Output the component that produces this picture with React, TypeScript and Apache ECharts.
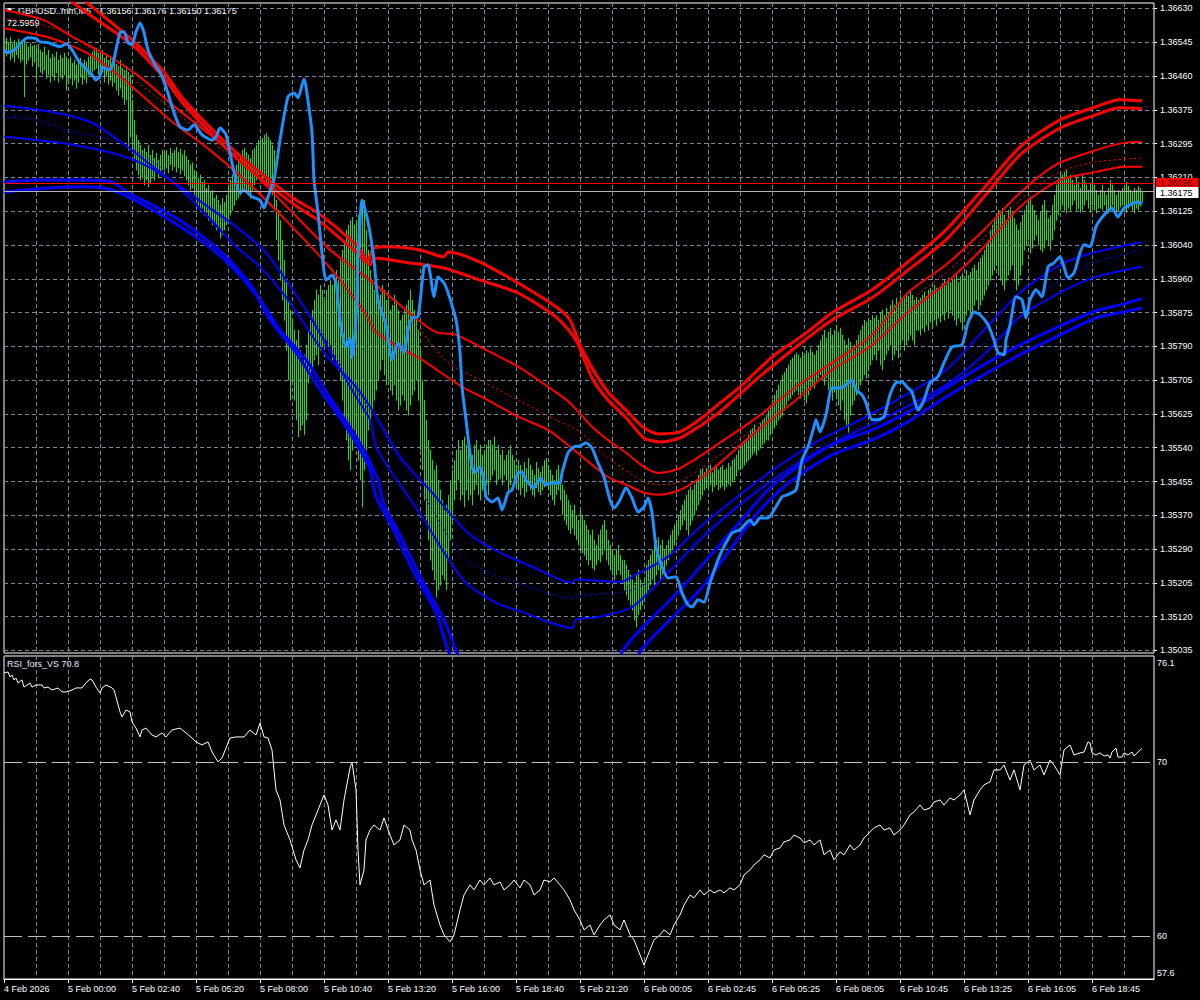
import React, { useEffect, useRef } from "react";
import * as echarts from "echarts";

// ---------- scale constants ----------
const PRICE_BASE = 1.35;
const PRICE_UNIT = 0.00001;
const PRICE_AXIS_MIN = 1.350287;
const PRICE_AXIS_MAX = 1.366435;
const PRICE_LABELS = ["1.35035","1.35120","1.35205","1.35290","1.35370","1.35455","1.35540","1.35625","1.35705","1.35790","1.35875","1.35960","1.36040","1.36125","1.36210","1.36295","1.36375","1.36460","1.36545","1.36630"];
const PRICE_TICK_LO = 1.35035;
const PRICE_TICK_HI = 1.3663;
const RSI_AXIS_MIN = 57.52;
const RSI_AXIS_MAX = 76.12;
const RSI_LABELS = ["57.6", "60", "70", "76.1"];
const RSI_LABEL_AT = [57.87, 60, 70, 75.72];
const RSI_LEVELS = [70, 60];
const ASK = 1.36195;
const BID = 1.36175;
const HEADER_SYMBOL = "GBPUSD..mm,M5";
const HEADER_OHLC = "1.36156 1.36176 1.36150 1.36175";
const HEADER_EXTRA = "72.5959";
const RSI_NAME = "RSI_fors_VS 70.8";
const FIRST_LABEL = "4 Feb 2026";
const SLOT_COUNT = 576;

// ---------- bars (high / low, in 0.00001 above 1.35000) ----------
const BAR_HI = [
1552,1557,1547,1560,1542,1552,1547,1555,1540,1550,1552,1542,1535,1545,1537,1540,
1532,1542,1527,1522,1535,1515,1527,1507,1517,1510,1522,1502,1515,1507,1520,1510,
1502,1510,1495,1502,1490,1497,1507,1492,1502,1497,1510,1515,1522,1527,1532,1520,
1515,1527,1507,1517,1502,1512,1497,1507,1492,1487,1502,1482,1477,1487,1472,1465,
1403,1353,1316,1303,1291,1278,1283,1273,1291,1266,1278,1258,1271,1254,1266,1278,
1273,1278,1266,1283,1271,1278,1286,1273,1281,1268,1278,1263,1254,1242,1247,1229,
1224,1209,1217,1199,1204,1184,1192,1174,1179,1159,1167,1154,1142,1159,1149,1167,
1192,1204,1217,1229,1242,1254,1266,1278,1283,1273,1266,1258,1278,1283,1291,1303,
1303,1308,1316,1321,1311,1303,1291,1278,
1154,1129,1104,1055,1005,955,906,881,
856,831,806,831,781,757,770,794,
831,856,881,906,931,919,943,931,
906,931,943,955,943,968,980,955,1005,1030,1055,1080,1093,1104,1112,1093,
1104,1117,1129,1142,1154,1080,1030,980,955,931,943,906,919,943,931,906,
906,881,894,919,906,881,856,869,881,894,906,931,906,881,856,831,
781,707,657,608,558,533,508,484,496,459,434,409,384,397,421,459,484,508,533,558,
533,558,566,546,558,533,521,546,558,533,546,521,533,546,558,
558,546,566,533,546,521,533,508,521,533,546,521,508,496,
508,496,484,503,488,513,496,484,471,503,488,478,493,508,513,496,484,471,459,484,496,471,
447,434,422,409,397,384,397,372,359,384,
372,359,347,335,322,335,310,297,322,335,347,359,335,310,297,285,272,285,297,272,260,
260,248,235,223,211,198,223,235,211,198,215,
248,260,272,285,297,310,316,297,310,285,297,310,322,335,347,359,372,384,397,409,
422,434,442,434,447,459,471,484,488,478,
488,484,496,478,488,493,484,491,496,484,488,501,493,508,513,521,533,
538,546,558,563,571,583,588,596,583,591,601,608,613,620,
632,645,657,670,682,695,707,720,727,737,745,757,762,770,775,
770,762,777,767,781,775,786,777,770,781,794,
806,819,831,811,826,836,819,831,843,826,836,819,806,794,811,801,786,794,806,819,831,843,856,851,861,856,868,
861,868,856,876,881,868,886,876,894,906,894,911,901,918,906,911,923,916,931,918,906,913,
906,911,918,926,916,931,936,923,943,936,931,941,948,955,943,960,950,
955,960,968,950,965,973,960,980,968,975,985,993,980,1000,1010,1017,1030,1042,1055,1080,1093,
1104,1117,1129,1124,1134,1117,1104,1129,1137,1124,1109,1093,1080,1099,1117,
1129,1142,1154,1162,1142,1129,1117,1104,1124,1142,1154,1129,1109,1117,1142,1167,1192,1209,1224,
1217,1224,1229,1209,1217,1204,1192,1209,1199,1184,1217,1204,1192,1179,1197,1209,1192,1179,1167,
1179,1192,1174,1167,1184,1204,1192,1179,1167,1179,1174,1184,1192,1199,1189,1179,1174,1184,1179,1189,1184,1176
];
const BAR_LO = [
1522,1512,1525,1502,1510,1497,1515,1507,1497,1502,1411,1492,1502,1510,1487,1497,
1452,1485,1472,1467,1477,1457,1465,1447,1462,1452,1470,1447,1460,1455,1465,1427,
1445,1457,1440,1452,1432,1447,1460,1442,1455,1445,1465,1462,1472,1477,1482,1467,
1457,1472,1447,1462,1442,1452,1437,1447,1427,1415,1432,1408,1391,1403,1278,1311,
1278,1254,1229,1217,1204,1209,1192,1204,1187,1197,1214,1204,1224,1209,1217,1229,
1229,1234,1222,1242,1229,1237,1224,1234,1219,1229,1214,1204,1192,1179,1184,1167,
1154,1142,1129,1134,1117,1124,1104,1109,1093,1099,1080,1085,1060,1068,1080,1093,
1104,1117,1129,1142,1154,1159,1167,1179,1184,1174,1167,1159,1179,1192,1204,1217,
1217,1204,1209,1192,1197,1187,1167,1129,
1055,1005,955,906,856,781,707,657,
707,657,608,566,583,596,571,608,
700,720,732,757,770,745,781,789,
794,806,781,794,757,770,745,732,707,657,608,558,508,484,533,583,
558,508,459,392,484,533,583,608,632,657,682,707,732,757,720,695,
707,682,670,695,657,632,645,670,657,632,620,645,670,682,707,657,
533,484,409,359,310,260,235,211,168,186,198,223,211,186,260,310,359,409,434,459,
409,422,392,434,409,422,397,434,447,422,409,434,459,447,422,
459,471,484,447,459,463,447,471,459,434,447,463,454,439,
434,422,439,417,429,447,434,422,417,439,429,422,434,441,447,434,422,409,397,422,434,409,
372,359,347,335,326,339,322,310,297,285,
278,272,260,248,260,240,235,248,260,255,272,285,260,248,235,223,211,223,235,223,211,
186,173,161,148,136,111,94,124,136,148,161,
173,186,198,211,193,223,235,211,223,235,248,260,272,285,297,310,322,335,347,359,
335,322,347,359,372,384,397,409,422,434,
439,434,447,429,442,447,434,439,444,434,442,449,444,454,459,469,484,
484,488,496,503,508,513,521,528,521,533,538,546,551,558,
558,571,583,588,596,608,613,620,632,645,657,662,670,677,682,
670,662,677,657,650,670,682,695,687,707,712,
720,707,695,712,682,670,657,677,662,645,632,657,608,596,576,620,645,657,670,682,695,707,720,712,732,745,757,
770,757,781,745,732,757,770,781,794,757,770,781,762,794,806,781,794,806,819,806,794,831,
831,819,836,826,843,831,851,836,856,843,861,851,868,856,876,861,881,
868,856,843,861,851,831,856,868,881,861,876,893,906,881,893,906,918,931,943,955,968,
980,993,968,955,943,931,955,968,980,993,955,931,943,968,993,
1030,1042,1055,1022,1035,1055,1067,1042,1030,1025,1035,1055,1042,1030,1055,1080,1104,1117,1129,
1142,1129,1122,1134,1129,1142,1154,1129,1134,1124,1129,1142,1154,1134,1124,1142,1129,1122,1134,
1134,1129,1142,1124,1122,1129,1142,1134,1124,1129,1137,1142,1129,1124,1134,1142,1129,1122,1134,1129,1139,1150
];

// ---------- indicator lines: [bar index, value in 0.00001 above 1.35000] ----------
const RED_OUTER_1 = [[0,1837],[40,1651],[64,1552],[80,1472],[90,1403],[112,1291],[128,1222],[146,1154],[157,1122],[176,1043],[182,1005],[185,1035],[193,1038],[208,1030],[220,1013],[222,1025],[238,1000],[257,948],[276,889],[283,856],[288,794],[294,737],[302,677],[311,632],[320,588],[327,573],[338,578],[349,613],[358,650],[368,690],[377,732],[386,772],[396,806],[405,839],[414,874],[434,931],[452,1000],[471,1080],[490,1184],[508,1286],[528,1353],[546,1386],[558,1403],[569,1400]];
const RED_OUTER_2 = [[0,1825],[33,1651],[64,1540],[80,1457],[90,1391],[112,1278],[128,1209],[146,1139],[157,1104],[176,1025],[183,993],[185,1010],[202,998],[220,985],[238,955],[257,923],[276,863],[286,806],[294,712],[302,657],[311,613],[320,563],[328,553],[338,563],[349,596],[358,628],[377,712],[396,789],[414,856],[434,911],[452,980],[471,1055],[490,1162],[508,1266],[528,1333],[546,1366],[558,1383],[569,1381]];
const RED_UPPER = [[0,1626],[20,1601],[34,1560],[53,1510],[70,1452],[84,1391],[103,1316],[123,1229],[143,1129],[163,1030],[183,955],[207,856],[216,826],[226,819],[238,789],[257,740],[272,690],[283,650],[294,591],[302,558],[311,526],[320,491],[327,476],[336,484],[345,508],[358,551],[377,616],[396,690],[414,750],[434,819],[452,924],[471,993],[490,1080],[508,1172],[526,1242],[546,1278],[560,1296],[569,1298]];
const RED_MID = [[0,1606],[28,1576],[53,1497],[78,1403],[103,1303],[128,1204],[153,1080],[173,993],[190,919],[208,831],[222,750],[238,707],[257,657],[276,608],[288,578],[302,513],[320,454],[328,447],[338,454],[358,521],[377,596],[396,670],[414,745],[434,811],[452,901],[471,973],[490,1060],[508,1154],[528,1224],[546,1249],[569,1258]];
const RED_LOWER = [[0,1581],[23,1557],[43,1515],[63,1440],[83,1353],[103,1278],[123,1192],[143,1093],[164,980],[181,869],[186,826],[200,781],[209,757],[220,720],[229,690],[240,662],[257,616],[272,583],[283,541],[302,466],[311,447],[320,427],[328,422],[338,434],[349,466],[358,501],[377,583],[396,657],[414,732],[434,794],[452,876],[471,948],[490,1038],[508,1137],[528,1204],[546,1224],[560,1237],[569,1237]];
const BLUE_UPPER = [[0,1388],[26,1371],[44,1346],[57,1303],[70,1254],[87,1187],[102,1112],[116,1038],[128,988],[142,906],[160,775],[176,690],[185,625],[198,516],[214,427],[232,327],[248,278],[264,243],[284,203],[286,211],[308,205],[314,218],[332,268],[348,342],[368,422],[388,496],[408,558],[428,608],[448,662],[471,732],[490,831],[508,924],[528,993],[546,1025],[569,1050]];
const BLUE_MID = [[0,1361],[16,1353],[35,1322],[54,1303],[73,1254],[98,1154],[123,1043],[148,906],[173,707],[198,508],[209,427],[231,260],[257,203],[284,165],[288,170],[314,186],[332,235],[348,317],[368,404],[388,478],[408,541],[428,591],[448,645],[471,712],[490,794],[508,889],[528,955],[546,1000],[569,1030]];
const BLUE_LOWER = [[0,1311],[16,1303],[35,1291],[54,1271],[68,1247],[83,1204],[102,1137],[116,1088],[131,1023],[142,948],[154,856],[176,665],[183,608],[186,541],[194,476],[209,367],[220,278],[231,203],[246,153],[260,129],[272,106],[284,91],[286,111],[298,119],[314,143],[332,228],[348,310],[368,397],[388,471],[408,533],[428,583],[448,632],[471,695],[490,770],[508,864],[528,924],[546,963],[569,988]];
const BLUE_OUTER_1 = [[0,1199],[16,1204],[40,1204],[54,1199],[62,1172],[76,1137],[90,1097],[109,1023],[124,938],[133,856],[146,775],[157,690],[172,583],[183,484],[186,417],[194,342],[205,228],[216,129],[222,36],[233,-88],[258,-237],[278,-262],[298,-138],[309,31],[323,111],[338,185],[352,265],[368,354],[382,434],[398,496],[414,546],[434,583],[452,627],[471,687],[490,745],[508,794],[528,841],[546,879],[560,896],[569,909]];
const BLUE_OUTER_2 = [[0,1174],[22,1184],[40,1187],[54,1179],[68,1147],[83,1104],[98,1055],[113,993],[128,906],[138,831],[151,757],[162,670],[177,558],[187,459],[190,397],[198,322],[209,210],[220,111],[227,24],[238,-88],[263,-262],[283,-287],[303,-138],[318,31],[333,111],[348,186],[363,285],[378,384],[393,454],[414,521],[434,558],[452,603],[471,665],[490,720],[508,770],[528,819],[546,861],[560,876],[569,886]];
const SMOOTH_PRICE = [[0,1527],[2,1520],[6,1530],[9,1547],[12,1557],[16,1555],[18,1547],[22,1545],[28,1535],[31,1542],[34,1527],[37,1502],[40,1485],[44,1465],[46,1452],[48,1462],[49,1485],[52,1477],[54,1485],[56,1527],[58,1570],[60,1572],[62,1545],[64,1540],[66,1572],[68,1594],[70,1570],[72,1527],[76,1485],[78,1472],[81,1435],[85,1371],[88,1336],[92,1328],[95,1341],[99,1316],[104,1303],[106,1311],[108,1333],[111,1316],[114,1247],[118,1172],[120,1179],[124,1162],[128,1154],[130,1134],[132,1162],[135,1204],[138,1303],[142,1411],[145,1420],[147,1408],[150,1455],[151,1435],[154,1321],[155,1204],[157,1122],[159,1023],[161,955],[164,968],[166,948],[168,856],[169,824],[171,789],[173,811],[174,762],[176,856],[177,1005],[179,1154],[181,1122],[183,1073],[185,1005],[187,906],[191,844],[194,757],[197,799],[200,775],[202,831],[204,861],[207,864],[210,988],[212,993],[215,914],[217,963],[220,948],[222,924],[226,856],[228,775],[229,690],[231,608],[233,526],[235,476],[238,491],[240,459],[241,417],[244,404],[247,414],[249,384],[252,427],[254,434],[257,476],[259,478],[261,459],[265,439],[268,463],[271,447],[274,451],[278,451],[279,476],[282,526],[285,541],[288,543],[291,551],[294,538],[297,501],[300,466],[303,409],[305,389],[308,409],[311,439],[314,414],[317,379],[320,392],[322,414],[324,377],[326,293],[329,243],[332,215],[336,218],[339,178],[342,148],[344,143],[347,161],[350,155],[353,203],[357,260],[360,293],[364,327],[368,335],[373,359],[375,347],[378,364],[382,364],[386,392],[389,417],[392,422],[396,434],[399,508],[402,541],[405,591],[406,608],[408,578],[411,620],[414,687],[418,687],[421,695],[424,707],[426,682],[429,670],[431,650],[434,608],[437,608],[440,616],[443,670],[446,700],[449,702],[452,687],[454,677],[457,632],[460,657],[463,700],[467,715],[470,750],[474,789],[479,794],[482,849],[485,876],[488,869],[492,844],[495,806],[497,775],[500,770],[501,806],[503,844],[506,914],[509,906],[511,861],[513,906],[516,931],[519,914],[522,988],[525,998],[528,1013],[530,988],[532,960],[535,973],[538,1023],[540,1043],[543,1038],[546,1088],[548,1104],[551,1122],[554,1134],[557,1112],[560,1134],[563,1142],[565,1147],[567,1149],[569,1144]];

// ---------- RSI: [bar index, value] ----------
const RSI = [[0,75.14],[2,75.2],[3,74.91],[4,75.03],[5,74.74],[6,74.85],[7,74.57],[9,74.74],[10,74.33],[13,74.57],[14,74.33],[16,74.45],[19,74.45],[20,74.28],[22,74.33],[24,74.16],[27,74.28],[29,74.05],[31,74.05],[34,74.16],[36,74.28],[39,74.28],[41,74.57],[43,74.8],[44,74.74],[46,74.33],[48,73.99],[49,74.28],[51,74.45],[54,74.28],[55,74.16],[56,73.76],[58,72.9],[59,72.61],[61,73.01],[63,72.9],[64,72.32],[66,71.97],[68,71.46],[69,71.86],[71,71.97],[74,71.57],[76,71.46],[79,71.69],[81,71.46],[84,71.86],[88,71.97],[91,71.69],[94,71.4],[96,71.17],[99,71.0],[102,71.17],[104,70.59],[107,70.02],[109,70.25],[111,70.82],[113,71.4],[116,71.46],[118,71.46],[120,71.46],[123,71.86],[126,71.57],[128,72.26],[130,71.46],[132,71.4],[134,70.71],[136,68.41],[138,67.83],[140,66.39],[143,65.53],[146,64.38],[148,63.92],[150,64.95],[152,65.53],[154,66.39],[157,67.25],[159,67.83],[160,68.12],[162,67.54],[164,66.1],[166,66.68],[168,66.1],[170,67.83],[173,69.67],[174,70.02],[176,68.41],[177,64.95],[178,62.94],[180,63.8],[181,65.53],[183,66.1],[185,66.39],[188,66.1],[190,66.79],[193,65.81],[195,65.24],[198,65.53],[200,66.39],[203,66.1],[204,65.53],[206,64.95],[208,63.8],[210,62.94],[213,63.22],[215,61.78],[218,60.63],[220,60.06],[223,59.66],[225,60.06],[228,61.5],[230,62.36],[233,62.94],[235,62.65],[238,63.22],[240,62.94],[243,63.34],[245,62.94],[248,63.11],[250,62.65],[253,62.94],[255,63.22],[258,62.77],[260,63.22],[263,62.94],[265,62.36],[268,62.65],[270,63.22],[273,63.11],[275,63.34],[278,62.94],[280,62.65],[283,62.07],[285,61.5],[288,60.92],[290,60.35],[293,60.63],[295,60.06],[298,60.63],[300,60.92],[303,61.21],[305,60.63],[308,60.35],[310,60.92],[313,60.06],[315,59.77],[318,58.91],[320,58.33],[323,59.2],[325,59.77],[328,60.06],[330,60.35],[333,60.06],[335,60.63],[338,61.21],[340,61.78],[343,62.36],[345,62.19],[348,62.65],[350,62.36],[353,62.65],[355,62.48],[358,62.65],[360,62.48],[363,62.77],[365,62.65],[368,62.94],[370,63.51],[373,63.8],[375,64.09],[378,64.38],[380,64.67],[383,64.49],[385,64.95],[388,65.07],[390,65.41],[393,65.53],[395,65.81],[398,65.64],[400,65.36],[403,65.53],[405,65.24],[408,65.53],[410,64.67],[413,64.95],[415,64.38],[418,64.84],[420,64.67],[423,65.24],[425,64.95],[428,65.24],[430,65.64],[433,65.99],[435,66.22],[438,66.39],[440,66.1],[443,66.22],[445,65.81],[448,66.1],[450,66.39],[453,66.97],[455,67.14],[458,67.54],[460,67.25],[463,67.37],[465,67.71],[468,67.83],[470,67.54],[473,67.94],[475,67.83],[478,68.12],[480,68.41],[483,66.97],[485,67.83],[488,68.41],[490,68.7],[493,68.87],[495,69.56],[498,69.56],[500,69.84],[503,68.98],[505,69.56],[508,68.41],[510,69.84],[513,70.13],[515,69.56],[518,69.84],[520,69.27],[523,70.13],[525,69.84],[528,69.27],[530,70.71],[533,71.0],[535,70.42],[538,70.54],[540,70.59],[542,71.17],[543,71.11],[544,70.54],[546,70.42],[548,70.54],[550,70.36],[552,70.42],[553,70.25],[554,70.59],[556,70.82],[557,70.3],[559,70.3],[560,70.54],[562,70.42],[564,70.59],[565,70.36],[567,70.59],[569,70.8]];

// ---------- colours ----------
const BG = "#000000";
const FG = "#ffffff";
const GRID_COLOR = "#778899";
const BAR_COLOR = "#20dd20";
const RED = "#ff0000";
const BLUE = "#0000ff";
const DODGER = "#1e90ff";
const FONT = "Liberation Sans";

const pad2 = (n: number) => (n < 10 ? "0" + n : "" + n);
function buildTimes(): string[] {
  const out: string[] = [];
  let d = 4, h = 21, m = 20;
  for (let k = 0; k < SLOT_COUNT; k++) {
    out.push(`${d} Feb ${pad2(h)}:${pad2(m)}`);
    m += 5;
    if (m >= 60) {
      m = 0;
      h += 1;
      if (h >= 24) {
        h = 0;
        d += 1;
        if (d === 6) m = 5;
      }
    }
  }
  return out;
}

const toPrice = (v: number) => +(PRICE_BASE + v * PRICE_UNIT).toFixed(6);
const toSeries = (arr: number[][]) => arr.map(([i, v]) => [i, toPrice(v)]);

export default function App() {
  const ref = useRef<HTMLDivElement>(null);
  useEffect(() => {
    if (!ref.current) return;
    const chart = echarts.init(ref.current, null, { renderer: "svg" });
    const times = buildTimes();
    const step = (PRICE_TICK_HI - PRICE_TICK_LO) / (PRICE_LABELS.length - 1);
    const priceTicks = PRICE_LABELS.map((_, k) => PRICE_TICK_LO + k * step);
    const n = Math.min(BAR_HI.length, BAR_LO.length);
    const bars: number[][] = [];
    for (let i = 0; i < n; i++) bars.push([i, toPrice(BAR_HI[i]), toPrice(BAR_LO[i])]);

    const vSplit = { show: true, interval: (i: number) => i % 16 === 0, lineStyle: { color: GRID_COLOR, type: [4, 3], width: 1 } };
    const lineSeries = (name: string, data: number[][], color: string, width: number, dashed?: boolean) => ({
      name,
      type: "line",
      xAxisIndex: 0,
      yAxisIndex: 0,
      data: toSeries(data),
      showSymbol: false,
      symbol: "none",
      smooth: 0.25,
      silent: true,
      clip: true,
      lineStyle: { color, width, type: dashed ? [2, 3] : "solid" },
    });

    const option: any = {
      animation: false,
      backgroundColor: BG,
      textStyle: { fontFamily: FONT },
      grid: [
        { left: 4, top: 3, width: 1150, height: 650, show: true, borderColor: FG, borderWidth: 1, backgroundColor: "transparent" },
        { left: 4, top: 656, width: 1150, height: 323, show: true, borderColor: FG, borderWidth: 1, backgroundColor: "transparent" },
      ],
      xAxis: [
        {
          type: "category", gridIndex: 0, data: times, boundaryGap: false,
          axisLine: { show: false }, axisTick: { show: false }, axisLabel: { show: false },
          splitLine: vSplit,
        },
        {
          type: "category", gridIndex: 1, data: times, boundaryGap: false,
          axisLine: { show: true, lineStyle: { color: FG, width: 1 } },
          axisTick: { show: true, interval: (i: number) => i % 32 === 0, length: 4, lineStyle: { color: FG } },
          axisLabel: {
            show: true, interval: (i: number) => i % 32 === 0, color: FG, fontSize: 9, fontFamily: FONT,
            align: "left", margin: 5,
            formatter: (v: string, idx: number) => (idx === 0 ? FIRST_LABEL : v),
          },
          splitLine: vSplit,
        },
      ],
      yAxis: [
        {
          type: "value", gridIndex: 0, position: "right", min: PRICE_AXIS_MIN, max: PRICE_AXIS_MAX, scale: true,
          axisLine: { show: false },
          axisTick: { show: true, customValues: priceTicks, length: 3, lineStyle: { color: FG } },
          axisLabel: {
            customValues: priceTicks, color: FG, fontSize: 9, fontFamily: FONT, margin: 6,
            formatter: (val: number) => {
              const k = Math.round((val - PRICE_TICK_LO) / step);
              return PRICE_LABELS[k] ?? "";
            },
          },
          splitLine: { show: true, lineStyle: { color: GRID_COLOR, type: [4, 3], width: 1 } },
        },
        {
          type: "value", gridIndex: 1, position: "right", min: RSI_AXIS_MIN, max: RSI_AXIS_MAX, scale: true,
          axisLine: { show: false },
          axisTick: { show: false, customValues: RSI_LABEL_AT },
          axisLabel: {
            customValues: RSI_LABEL_AT, color: FG, fontSize: 9, fontFamily: FONT, margin: 3,
            formatter: (val: number) => {
              const k = RSI_LABEL_AT.findIndex((p) => Math.abs(p - val) < 0.01);
              return k >= 0 ? RSI_LABELS[k] : "";
            },
          },
          splitLine: { show: false },
        },
      ],
      series: [
        {
          name: "bars", type: "custom", xAxisIndex: 0, yAxisIndex: 0, data: bars, silent: true, clip: true,
          encode: { x: 0, y: [1, 2] },
          renderItem: (params: any, api: any) => {
            const i = api.value(0);
            const top = api.coord([i, api.value(1)]);
            const bot = api.coord([i, api.value(2)]);
            const x = Math.round(top[0]) + 0.5;
            return {
              type: "line",
              shape: { x1: x, y1: top[1], x2: x, y2: bot[1] + 0.5 },
              style: { stroke: BAR_COLOR, lineWidth: 1 },
            };
          },
        },
        lineSeries("redUpper", RED_UPPER, RED, 2),
        lineSeries("redMid", RED_MID, RED, 1, true),
        lineSeries("redLower", RED_LOWER, RED, 2),
        lineSeries("redOuter1", RED_OUTER_1, RED, 3),
        lineSeries("redOuter2", RED_OUTER_2, RED, 3),
        lineSeries("blueUpper", BLUE_UPPER, BLUE, 2),
        lineSeries("blueMid", BLUE_MID, BLUE, 1, true),
        lineSeries("blueLower", BLUE_LOWER, BLUE, 2),
        lineSeries("blueOuter1", BLUE_OUTER_1, BLUE, 3),
        lineSeries("blueOuter2", BLUE_OUTER_2, BLUE, 3),
        {
          ...lineSeries("smooth", SMOOTH_PRICE, DODGER, 3),
          smooth: 0.2,
          markLine: {
            silent: true,
            symbol: ["none", "none"],
            precision: 6,
            animation: false,
            data: [
              {
                yAxis: ASK,
                lineStyle: { color: RED, width: 1, type: "solid" },
                label: {
                  show: true, position: "end", distance: 2, formatter: ASK.toFixed(5),
                  backgroundColor: RED, color: "#300000", fontSize: 9, fontFamily: FONT,
                  padding: [0, 6, 0, 4], lineHeight: 9, offset: [0, -1],
                },
              },
              {
                yAxis: BID,
                lineStyle: { color: "#b4b4b4", width: 1, type: "solid" },
                label: {
                  show: true, position: "end", distance: 2, formatter: BID.toFixed(5),
                  backgroundColor: FG, color: "#000", fontSize: 9, fontFamily: FONT,
                  padding: [1, 6, 0, 4], lineHeight: 10, offset: [0, 1],
                },
              },
            ],
          },
        },
        {
          name: "rsi", type: "line", xAxisIndex: 1, yAxisIndex: 1, data: RSI, showSymbol: false, symbol: "none",
          silent: true, clip: true, lineStyle: { color: FG, width: 1 },
          markLine: {
            silent: true,
            symbol: ["none", "none"],
            precision: 2,
            label: { show: false },
            lineStyle: { color: "#c0c0c0", width: 1, type: [18, 6] },
            data: RSI_LEVELS.map((l) => ({ yAxis: l })),
          },
        },
      ],
      graphic: [
        { type: "polygon", shape: { points: [[6, 8], [13, 8], [9.5, 12]] }, style: { fill: FG } },
        { type: "text", x: 18, y: 11, style: { text: HEADER_SYMBOL, fill: FG, fontSize: 9, fontFamily: FONT, verticalAlign: "middle" } },
        { type: "text", x: 99, y: 11, style: { text: HEADER_OHLC, fill: FG, fontSize: 9, fontFamily: FONT, verticalAlign: "middle" } },
        { type: "text", x: 7, y: 23, style: { text: HEADER_EXTRA, fill: FG, fontSize: 9, fontFamily: FONT, verticalAlign: "middle" } },
        { type: "text", x: 7, y: 664, style: { text: RSI_NAME, fill: "#e6eef6", fontSize: 9, fontFamily: FONT, verticalAlign: "middle" } },
      ],
    };
    chart.setOption(option);
    return () => chart.dispose();
  }, []);
  return (
    <div style={{ position: "fixed", left: 0, top: 0, width: 1200, height: 1000, background: BG }}>
      <div ref={ref} style={{ width: 1200, height: 1000 }} />
    </div>
  );
}
